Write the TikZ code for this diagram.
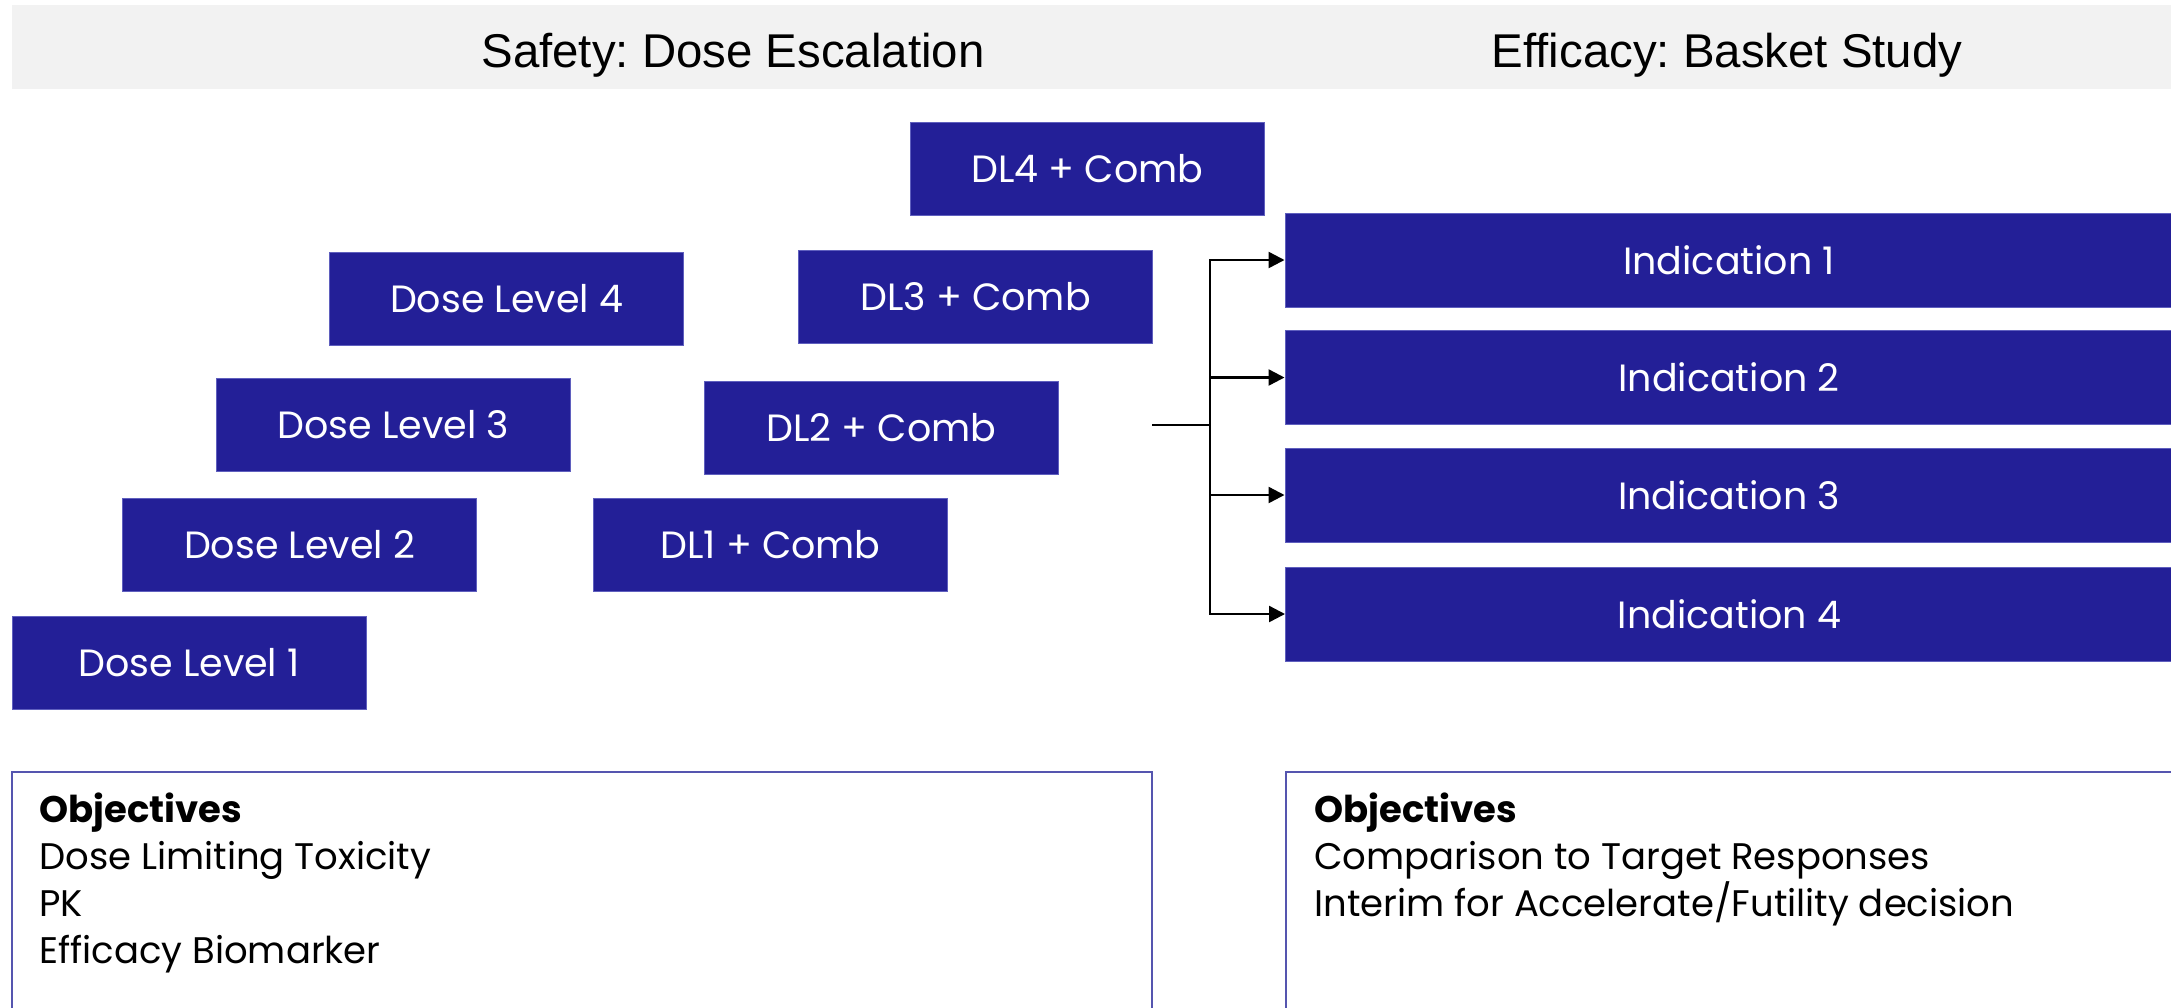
\documentclass[tikz,border=0pt]{standalone}
\usepackage{fontspec}
\setmainfont{Poppins}
\newfontfamily\titlefont{Liberation Sans}
\usetikzlibrary{arrows.meta}
\frenchspacing
\definecolor{boxblue}{RGB}{35,31,151}
\definecolor{boxedge}{RGB}{95,95,190}
\definecolor{objedge}{RGB}{85,85,175}
\definecolor{bandgray}{RGB}{242,242,242}
\tikzset{
  dosebox/.style={fill=boxblue, draw=boxedge, line width=0.5pt, minimum width=177pt, minimum height=46.5pt, inner sep=0pt, text=white, font=\fontsize{19}{23}\selectfont},
  indbox/.style={dosebox, minimum width=444pt, minimum height=47pt},
  objtext/.style={anchor=base west, inner sep=0pt, font=\fontsize{18.5}{22}\selectfont},
  titletext/.style={anchor=base, inner sep=0pt, font=\titlefont\fontsize{23.7}{28}\selectfont},
  arr/.style={-{Triangle[length=8pt,width=8pt]}, line width=1.2pt},
  objline/.style={draw=objedge, line width=0.7pt}
}
\begin{document}
\begin{tikzpicture}[x=0.5pt,y=-0.5pt]
\useasboundingbox (0,0) rectangle (2171,1007);
% header band
\fill[bandgray] (12,5) rectangle (2180,89);
\node[titletext] (t1) at (733,67) {Safety: Dose Escalation};
\node[titletext] (t2) at (1727,67) {Efficacy: Basket Study};
% dose boxes
\node[dosebox] (dl1) at (189,662.5) {Dose Level 1};
\node[dosebox] (dl2) at (299.5,544.5) {Dose Level 2};
\node[dosebox] (dl3) at (393.5,425) {Dose Level 3};
\node[dosebox] (dl4) at (506.5,298.5) {Dose Level 4};
\node[dosebox] (c1) at (770.5,544.5) {DL1 + Comb};
\node[dosebox] (c2) at (881.5,427.5) {DL2 + Comb};
\node[dosebox] (c3) at (975.5,297) {DL3 + Comb};
\node[dosebox] (c4) at (1087.5,168.5) {DL4 + Comb};
% indications
\node[indbox] (i1) at (1729,260) {Indication 1};
\node[indbox] (i2) at (1729,377.5) {Indication 2};
\node[indbox] (i3) at (1729,495) {Indication 3};
\node[indbox] (i4) at (1729.5,614) {Indication 4};
% connectors
\coordinate (src) at (1152,425);
\coordinate (br) at (1210,425);
\draw[line width=1.2pt] (src) -- (br);
\draw[arr] (br) |- (i1.west);
\draw[arr] (br) |- (i2.west);
\draw[arr] (br) |- (i3.west);
\draw[arr] (br) |- (i4.west);
% objectives
\draw[objline] (12,772) rectangle (1152,1030);
\draw[objline] (1286,772) rectangle (2190,1030);
\node[objtext, font=\bfseries\fontsize{18.5}{22}\selectfont] (oa1) at (39,822) {Objectives};
\node[objtext] (oa2) at (39,869) {Dose Limiting Toxicity};
\node[objtext] (oa3) at (39,916) {PK};
\node[objtext] (oa4) at (39,963) {Efficacy Biomarker};
\node[objtext, font=\bfseries\fontsize{18.5}{22}\selectfont] (ob1) at (1314,822) {Objectives};
\node[objtext] (ob2) at (1314,869) {Comparison to Target Responses};
\node[objtext] (ob3) at (1314,916) {Interim for Accelerate/Futility decision};
\end{tikzpicture}
\end{document}
